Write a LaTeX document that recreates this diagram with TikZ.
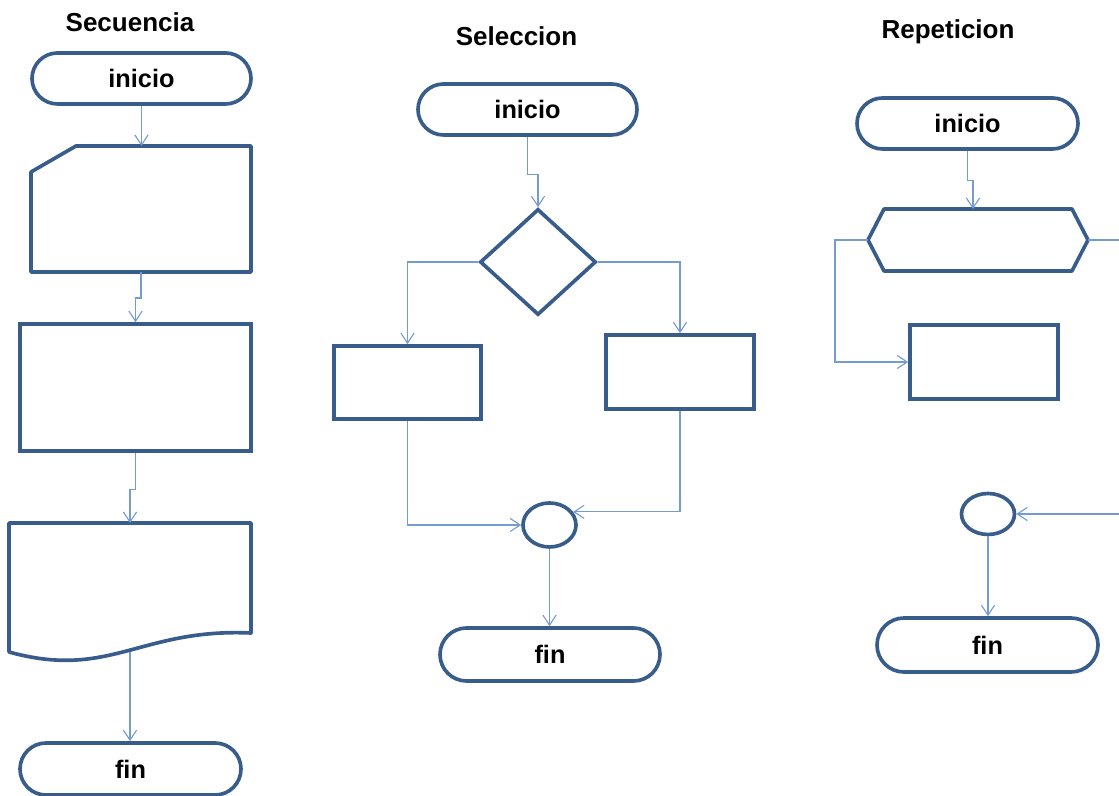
\documentclass[tikz,border=0pt]{standalone}
\usepackage{fontspec}
\setmainfont{Liberation Sans}
\usetikzlibrary{arrows.meta}
\usetikzlibrary{calc}
\usetikzlibrary{shapes.misc}
\usetikzlibrary{shapes.geometric}
\definecolor{boxBlue}{RGB}{56,93,138}
\definecolor{lineBlue}{RGB}{116,156,210}
\tikzset{>={Straight Barb[length=2.5mm,width=3.3mm]}}
\tikzset{
  box/.style={draw=boxBlue,line width=2.6pt,inner sep=0pt,font=\fontsize{18}{22}\selectfont\bfseries},
  term/.style={box,rounded rectangle},
  frame/.style={inner sep=0pt,outer sep=0pt},
  outline/.style={draw=boxBlue,line width=2.6pt,line join=round},
  link/.style={->,draw=lineBlue,line width=0.8pt},
  title/.style={anchor=base,font=\fontsize{18.5}{22}\selectfont\bfseries}
}
\begin{document}
\begin{tikzpicture}
\useasboundingbox (0,0) rectangle (27.975,19.9);

\node (T1) at (3.25,19.1) [title] {Secuencia};
\node (T2) at (12.913,18.75) [title] {Seleccion};
\node (T3) at (23.7,18.925) [title] {Repeticion};

\node (A1) at (3.5375,17.9375) [term,minimum width=5.475cm,minimum height=1.275cm] {inicio};
\node (A2) at (3.525,14.675) [frame,minimum width=5.5cm,minimum height=3.15cm] {};
\node (A3) at (3.3875,10.2125) [box,rectangle,minimum width=5.775cm,minimum height=3.175cm] {};
\node (A4) at (3.25,5.2125) [frame,minimum width=6.05cm,minimum height=3.225cm] {};
\node (A5) at (3.2625,0.675) [term,minimum width=5.525cm,minimum height=1.3cm] {fin};

\node (B1) at (13.1875,17.1625) [term,minimum width=5.475cm,minimum height=1.275cm] {inicio};
\node (B2) at (13.45,13.35) [box,diamond,minimum width=2.9cm,minimum height=2.65cm] {};
\node (B3) at (10.1875,10.3375) [box,rectangle,minimum width=3.675cm,minimum height=1.825cm] {};
\node (B4) at (17,10.6) [box,rectangle,minimum width=3.7cm,minimum height=1.85cm] {};
\node (B5) at (13.7375,6.775) [box,ellipse,minimum width=1.325cm,minimum height=1.1cm] {};
\node (B6) at (13.75,3.5375) [term,minimum width=5.5cm,minimum height=1.325cm] {fin};

\node (C1) at (24.1875,16.8125) [term,minimum width=5.525cm,minimum height=1.275cm] {inicio};
\node (C2) at (24.45,13.9) [frame,minimum width=5.5cm,minimum height=1.55cm] {};
\node (C3) at (24.6,10.85) [box,rectangle,minimum width=3.7cm,minimum height=1.85cm] {};
\node (C4) at (24.7,7.05) [box,ellipse,minimum width=1.325cm,minimum height=1.025cm] {};
\node (C5) at (24.6875,3.775) [term,minimum width=5.525cm,minimum height=1.35cm] {fin};
\coordinate (C6) at (27.975,13.9);
\coordinate (C7) at (27.975,7.05);

% card, document and loop shapes
\draw [outline] ($(A2.north west)+(1.125,0)$) -- (A2.north east) -- (A2.south east) -- (A2.south west) -- ($(A2.north west)+(0,-0.65)$) -- cycle;
\draw [outline] (A4.north west) -- (A4.north east) -- ($(A4.south east)+(0,0.475)$) .. controls ($(A4.south east)+(-2.775,0.6)$) and ($(A4.south west)+(2.525,-0.7)$) .. (A4.south west) -- cycle;
\draw [outline] (C2.west) -- ($(C2.north west)+(0.4,0)$) -- ($(C2.north east)+(-0.4,0)$) -- (C2.east) -- ($(C2.south east)+(-0.4,0)$) -- ($(C2.south west)+(0.4,0)$) -- cycle;

\draw [link] (A1.south) -- (A1.south |- A2.north);
\draw [link] (A2.south) -- ++(0,-0.65) -| (A3.north);
\draw [link] (A3.south) -- ++(0,-0.925) -| (A4.north);
\draw [link] (A4.south) -- (A4.south |- A5.north);

\draw [link] (B1.south) -- ++(0,-0.95) -| (B2.north);
\draw [link] (B2.west) -| (B3.north);
\draw [link] (B2.east) -| (B4.north);
\draw [link] (B3.south) |- (B5.west);
\draw [link] (B4.south) |- (B5.29);
\draw [link] (B5.south) -- (B5.south |- B6.north);

\draw [link] (C1.south) -- ++(0,-0.75) -| ($(C2.north)+(-0.125,0)$);
\draw [link] (C2.west) -- ++(-0.825,0) |- (C3.west);
\draw [link,-] (C2.east) -- (C6);
\draw [link] (C7) -- (C4.east);
\draw [link] (C4.south) -- (C4.south |- C5.north);

\end{tikzpicture}
\end{document}
